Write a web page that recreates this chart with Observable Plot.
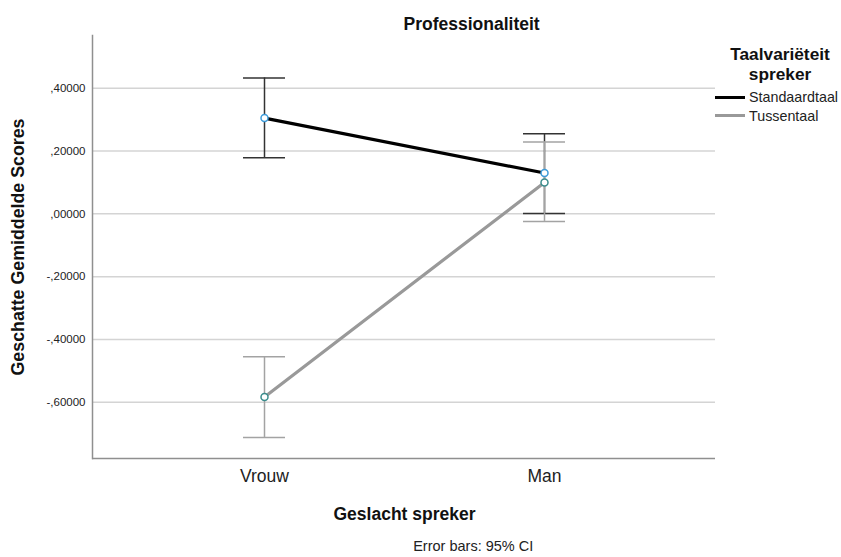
<!DOCTYPE html>
<html><head><meta charset="utf-8">
<script src="https://cdn.jsdelivr.net/npm/d3@7"></script>
<script src="https://cdn.jsdelivr.net/npm/@observablehq/plot@0.6"></script>
<style>
body{margin:0;background:#fff;font-family:"Liberation Sans",Arial,sans-serif;}
#wrap{position:relative;width:841px;height:557px;}
.legend{position:absolute;left:715px;top:88px;}
.row{display:flex;align-items:center;height:18.5px;font-size:14.3px;color:#222;white-space:nowrap;}
.sw{width:30px;height:3px;margin-right:4px;}
</style></head><body><div id="wrap"></div>
<script>
const groups = ["Vrouw", "Man"];
const seriesNames = ["Standaardtaal", "Tussentaal"];
const standaardMean = [0.305, 0.130];
const standaardLower = [0.179, 0.001];
const standaardUpper = [0.433, 0.255];
const tussenMean = [-0.583, 0.100];
const tussenLower = [-0.712, -0.024];
const tussenUpper = [-0.455, 0.229];
const yTicks = [-0.6, -0.4, -0.2, 0, 0.2, 0.4];
const yTickLabels = ["-,60000", "-,40000", "-,20000", ",00000", ",20000", ",40000"];
const yDomain = [-0.779, 0.568];
const titleText = "Professionaliteit";
const yLabel = "Geschatte Gemiddelde Scores";
const xLabel = "Geslacht spreker";
const captionText = "Error bars: 95% CI";
const legendTitle = "Taalvariëteit\nspreker";

const lineColors = ["#000000", "#999999"];
const barColors = ["#333333", "#a3a3a3"];
const dotColors = ["#3d9bd9", "#3a8c8c"];

const means = [standaardMean, tussenMean];
const lowers = [standaardLower, tussenLower];
const uppers = [standaardUpper, tussenUpper];
const rowsFor = (s) => groups.map((g, i) => ({group: g, series: seriesNames[s], mean: means[s][i], lo: lowers[s][i], hi: uppers[s][i]}));

const marks = [
  Plot.gridY(yTicks, {stroke: "#d4d4d4", strokeOpacity: 1, strokeWidth: 1.5}),
  Plot.ruleY([yDomain[0]], {stroke: "#8f8f8f", strokeWidth: 1.5}),
  Plot.frame({anchor: "left", stroke: "#8f8f8f", strokeWidth: 1.5}),
  Plot.axisY({ticks: yTicks, tickSize: 0, tickPadding: 7, fontSize: 11.5, fill: "#222", label: null,
    tickFormat: d => yTickLabels[yTicks.indexOf(d)]}),
  Plot.axisX({tickSize: 0, tickPadding: 11, fontSize: 17.5, fill: "#222", label: null})
];
[0, 1].forEach(s => {
  const rows = rowsFor(s);
  marks.push(Plot.ruleX(rows, {x: "group", y1: "lo", y2: "hi", stroke: barColors[s], strokeWidth: 1.5}));
  marks.push(Plot.ruleY(rows, {x1: "group", x2: "group", y: "hi", insetLeft: -21, insetRight: -21, stroke: barColors[s], strokeWidth: 1.5}));
  marks.push(Plot.ruleY(rows, {x1: "group", x2: "group", y: "lo", insetLeft: -21, insetRight: -21, stroke: barColors[s], strokeWidth: 1.5}));
});
[0, 1].forEach(s => {
  marks.push(Plot.line(rowsFor(s), {x: "group", y: "mean", stroke: lineColors[s], strokeWidth: 3.2}));
});
[0, 1].forEach(s => {
  marks.push(Plot.dot(rowsFor(s), {x: "group", y: "mean", r: 3.5, stroke: dotColors[s], strokeWidth: 1.5, fill: "white"}));
});
marks.push(
  Plot.text([titleText], {frameAnchor: "top-left", dx: 311, dy: -6, textAnchor: "start", lineAnchor: "bottom", fontWeight: "bold", fontSize: 17.5, fill: "#111"}),
  Plot.text([yLabel], {frameAnchor: "left", dx: -74, rotate: -90, textAnchor: "middle", lineAnchor: "middle", fontWeight: "bold", fontSize: 17.8, fill: "#111"}),
  Plot.text([xLabel], {frameAnchor: "bottom", dx: 0.5, dy: 61, textAnchor: "middle", lineAnchor: "bottom", fontWeight: "bold", fontSize: 17.5, fill: "#111"}),
  Plot.text([captionText], {frameAnchor: "bottom-left", dx: 320.7, dy: 92, textAnchor: "start", lineAnchor: "bottom", fontSize: 14.5, fill: "#222"}),
  Plot.text([legendTitle], {frameAnchor: "top-right", dx: 64.5, dy: 11, textAnchor: "middle", lineAnchor: "top", lineHeight: 1.12, fontWeight: "bold", fontSize: 17.3, fill: "#111"})
);

const chart = Plot.plot({
  width: 841, height: 557,
  marginLeft: 92, marginRight: 126, marginTop: 35, marginBottom: 99,
  style: {fontFamily: "'Liberation Sans', Arial, sans-serif", background: "white", overflow: "visible"},
  x: {type: "point", domain: groups, padding: 0.6125},
  y: {domain: yDomain},
  marks
});
const wrap = document.getElementById("wrap");
wrap.appendChild(chart);
const legend = document.createElement("div");
legend.className = "legend";
seriesNames.forEach((name, s) => {
  const row = document.createElement("div");
  row.className = "row";
  const sw = document.createElement("span");
  sw.className = "sw";
  sw.style.background = lineColors[s];
  const tx = document.createElement("span");
  tx.textContent = name;
  row.appendChild(sw); row.appendChild(tx);
  legend.appendChild(row);
});
wrap.appendChild(legend);
</script></body></html>
